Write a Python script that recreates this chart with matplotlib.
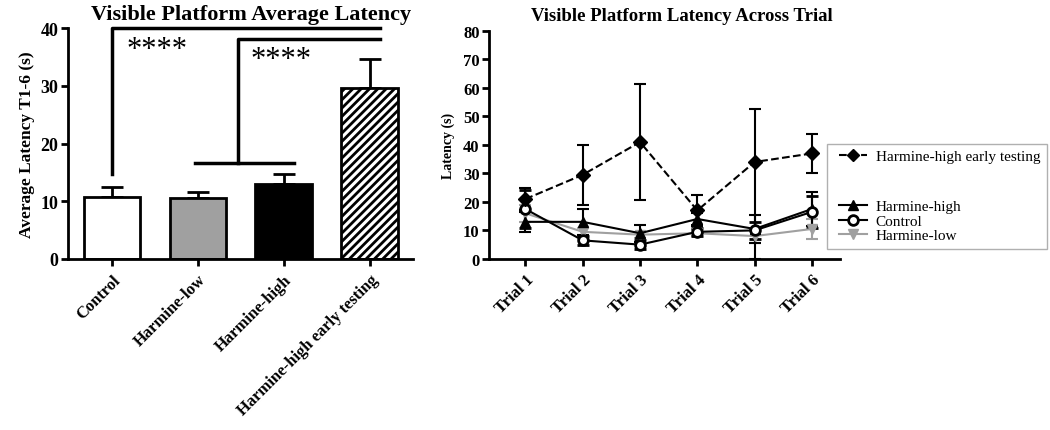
import numpy as np
import matplotlib
matplotlib.use('Agg')
import matplotlib.pyplot as plt
from matplotlib.lines import Line2D
from matplotlib.patches import Rectangle

plt.rcParams['font.family'] = ['Liberation Serif', 'DejaVu Serif']
plt.rcParams['font.weight'] = 'bold'
plt.rcParams['hatch.linewidth'] = 2.0

# average latency (left)
groups = ['Control', 'Harmine-low', 'Harmine-high', 'Harmine-high early testing']
avg_means = [10.8, 10.5, 13.0, 29.7]
avg_sem = [1.6, 1.1, 1.7, 4.9]
bar_colors = ['white', '#a0a0a0', 'black', 'white']
bar_hatch = [None, None, None, '////']

# latency across trials (right)
trials = ['Trial 1', 'Trial 2', 'Trial 3', 'Trial 4', 'Trial 5', 'Trial 6']
early = [21, 29.5, 41, 17, 34, 37]
early_err_lo = [4, 10.5, 20.5, 5.5, 34, 6.7]
early_err_hi = [4, 10.5, 20.5, 5.5, 18.5, 6.7]
high = [13, 13, 9, 14, 10.5, 17.5]
high_err = [3.5, 4.5, 3, 2, 5, 6]
control = [17.5, 6.5, 5, 9.5, 10, 16.5]
control_err = [6.5, 1.5, 1.5, 1.5, 3, 5.5]
low = [16, 9.5, 8.5, 9, 8, 10.5]
low_err = [3, 1.5, 1, 1, 2.5, 3.5]

fig = plt.figure(figsize=(10.5, 4.31), dpi=100)
ax1 = fig.add_axes([0.065, 0.397, 0.328, 0.535])
ax2 = fig.add_axes([0.466, 0.397, 0.334, 0.529])

def style(ax, ysize, xsize):
    for s in ['top', 'right']:
        ax.spines[s].set_visible(False)
    for s in ['left', 'bottom']:
        ax.spines[s].set_linewidth(2)
    ax.tick_params(width=2, length=5)
    ax.tick_params(axis='y', labelsize=ysize, pad=2)
    ax.tick_params(axis='x', labelsize=xsize, pad=4)
    for lab in ax.get_xticklabels():
        lab.set_rotation(45)
        lab.set_ha('right')
        lab.set_rotation_mode('anchor')

# ---- left: bars
x = np.arange(len(groups))
ax1.errorbar(x, avg_means, yerr=[np.zeros(len(x)), avg_sem], fmt='none',
             ecolor='black', elinewidth=2, capsize=8, capthick=2, zorder=1)
for i in range(len(groups)):
    ax1.bar(x[i], avg_means[i], width=0.66, color=bar_colors[i],
            edgecolor='black', linewidth=2, hatch=bar_hatch[i], zorder=2)
ax1.set_xlim(-0.51, 3.5)
ax1.set_ylim(0, 40)
ax1.set_yticks([0, 10, 20, 30, 40])
ax1.set_xticks(x)
ax1.set_xticklabels(groups)
ax1.set_ylabel('Average Latency T1-6 (s)', fontsize=12.5, fontweight='bold', labelpad=4)
ax1.set_title('Visible Platform Average Latency', fontsize=16, fontweight='bold',
              pad=7, x=0.53)
style(ax1, 13, 12)

# significance brackets
kw = dict(color='black', lw=2.5, clip_on=False)
ax1.plot([x[0], x[0], x[3] + 0.12], [14.7, 40, 40], **kw)
ax1.plot([x[1] - 0.03, x[2] + 0.12], [16.6, 16.6], **kw)
ax1.plot([1.47, 1.47, x[3] + 0.12], [16.6, 38.2, 38.2], **kw)
ax1.text(0.52, 36.4, '****', fontsize=22, ha='center', va='center', fontweight='normal')
ax1.text(1.97, 34.6, '****', fontsize=22, ha='center', va='center', fontweight='normal')

# ---- right: lines
t = np.arange(1, len(trials) + 1)
ax2.errorbar(t, low, yerr=low_err, color='#a0a0a0', marker='v', ms=7, lw=1.5,
             capsize=4.5, capthick=1.5, elinewidth=1.5)
ax2.errorbar(t, high, yerr=high_err, color='black', marker='^', ms=7, lw=1.5,
             capsize=4.5, capthick=1.5, elinewidth=1.5)
ax2.errorbar(t, control, yerr=control_err, color='black', marker='o', ms=7,
             mfc='white', mew=2, lw=1.5, capsize=4.5, capthick=1.5, elinewidth=1.5)
ax2.errorbar(t, early, yerr=[early_err_lo, early_err_hi], color='black', marker='D',
             ms=7, lw=1.5, ls='--', capsize=4.5, capthick=1.5, elinewidth=1.5)
ax2.set_xlim(0.37, 6.49)
ax2.set_ylim(0, 80)
ax2.set_yticks(range(0, 81, 10))
ax2.set_xticks(t)
ax2.set_xticklabels(trials)
ax2.set_ylabel('Latency (s)', fontsize=10, fontweight='bold', labelpad=6)
ax2.set_title('Visible Platform Latency Across Trial', fontsize=13.5, fontweight='bold',
              pad=8, x=0.55)
style(ax2, 12, 12)

# legend
fig.patches.append(Rectangle((827 / 1050, 1 - 250 / 431), 220 / 1050, 105 / 431,
                             transform=fig.transFigure, fill=False,
                             edgecolor='#b0b0b0', lw=1))
lk = dict(frameon=False, handlelength=1.8, handletextpad=0.6,
          borderaxespad=0, labelspacing=0.05,
          prop={'family': ['Liberation Serif'], 'weight': 'normal', 'size': 11})
h_early = Line2D([], [], color='black', ls='--', marker='D', ms=6, lw=1.5)
h_high = Line2D([], [], color='black', marker='^', ms=7, lw=1.5)
h_ctrl = Line2D([], [], color='black', marker='o', ms=7, mfc='white', mew=2, lw=1.5)
h_low = Line2D([], [], color='#a0a0a0', marker='v', ms=7, lw=1.5)
leg1 = fig.legend([h_early], ['Harmine-high early testing'], loc='center left',
                  bbox_to_anchor=(833 / 1050, 1 - 157 / 431), **lk)
leg2 = fig.legend([h_high, h_ctrl, h_low], ['Harmine-high', 'Control', 'Harmine-low'],
                  loc='center left', bbox_to_anchor=(833 / 1050, 1 - 222 / 431), **lk)

fig.savefig('out.png', dpi=100)
